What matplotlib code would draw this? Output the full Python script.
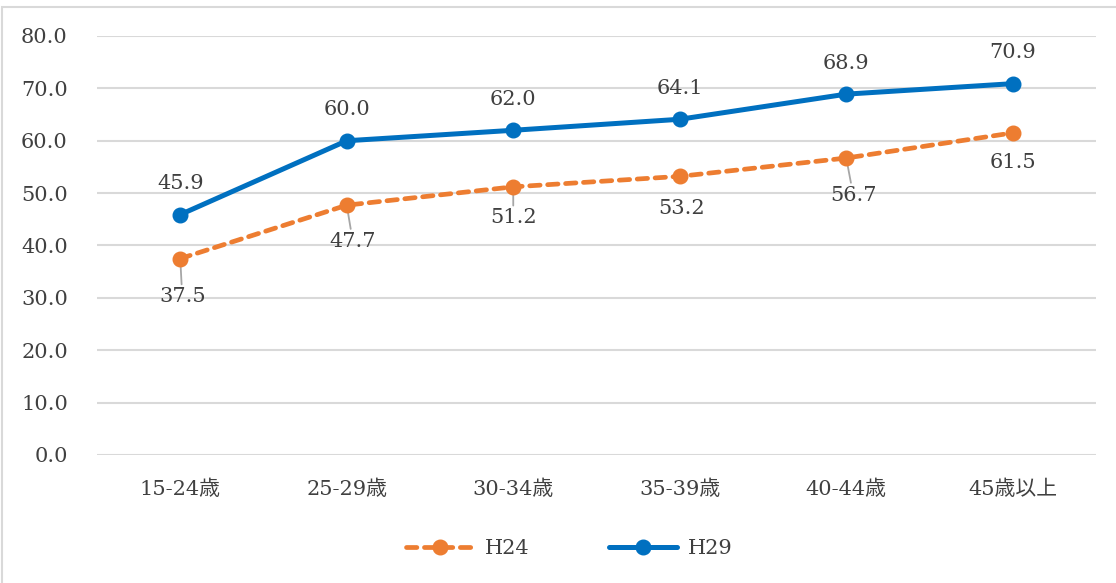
import matplotlib
matplotlib.use("Agg")
import matplotlib.pyplot as plt
from matplotlib.patches import Rectangle

plt.rcParams['font.family'] = ['DejaVu Serif', 'Noto Sans CJK JP']

categories = ["15-24歳", "25-29歳", "30-34歳", "35-39歳", "40-44歳", "45歳以上"]
h24 = [37.5, 47.7, 51.2, 53.2, 56.7, 61.5]
h29 = [45.9, 60.0, 62.0, 64.1, 68.9, 70.9]
yticks = [0, 10, 20, 30, 40, 50, 60, 70, 80]

text_color = "#404040"
orange = "#ED7D31"
blue = "#0070C0"
grid_color = "#D9D9D9"
FS = 15

W, H = 1116, 583
fig = plt.figure(figsize=(W / 100, H / 100), dpi=100)
ax = fig.add_axes([97 / W, 1 - 455 / H, (1096 - 97) / W, (455 - 36) / H])

x = list(range(len(categories)))
l24, = ax.plot(x, h24, color=orange, lw=3.4, ls=(0, (2.2, 1.6)), marker='o', ms=10.5,
               dash_capstyle='round', solid_capstyle='round', label="H24", zorder=3)
l29, = ax.plot(x, h29, color=blue, lw=3.6, marker='o', ms=10.5,
               solid_capstyle='round', label="H29", zorder=4)

ax.set_xlim(-0.5, len(categories) - 0.5)
ax.set_ylim(0, 80)
ax.set_yticks(yticks)
ax.set_yticklabels([f"{v:.1f}" for v in yticks])
ax.set_xticks(x)
ax.set_xticklabels(categories)
ax.tick_params(axis='both', length=0, labelsize=FS, colors=text_color)
ax.tick_params(axis='y', pad=21)
ax.tick_params(axis='x', pad=18)
ax.grid(axis='y', color=grid_color, lw=1.5)
ax.set_axisbelow(True)
for s in ax.spines.values():
    s.set_visible(False)

# H29 labels above
for xi, v in zip(x, h29):
    ax.annotate(f"{v:.1f}", (xi, v), xytext=(0, 31), textcoords='offset pixels',
                ha='center', va='center', fontsize=FS, color=text_color)

# H24 labels below, some with leader lines
offsets24 = [(2, -38), (6, -36), (0, -31), (2, -32), (7, -37), (0, -30)]
leaders = [True, True, True, False, True, False]
for xi, v, (dx, dy), lead in zip(x, h24, offsets24, leaders):
    kw = {}
    if lead:
        kw['arrowprops'] = dict(arrowstyle='-', color='#A6A6A6', lw=1.3,
                                shrinkA=0, shrinkB=2)
    ax.annotate(f"{v:.1f}", (xi, v), xytext=(dx, dy), textcoords='offset pixels',
                ha='center', va='center', fontsize=FS, color=text_color, zorder=2, **kw)

leg = fig.legend(handles=[l24, l29], loc='center', bbox_to_anchor=(569 / W, 1 - 549 / H),
                 ncol=2, frameon=False, fontsize=FS, handlelength=3.3,
                 handletextpad=0.5, columnspacing=3.8)
for t in leg.get_texts():
    t.set_color(text_color)

# chart border
fig.patches.append(Rectangle((2 / W, -0.1), 1.2, 1.1 - 7 / H, transform=fig.transFigure,
                             fill=False, edgecolor=grid_color, lw=1.5, zorder=0))

fig.savefig("out.png", dpi=100, facecolor='white')
